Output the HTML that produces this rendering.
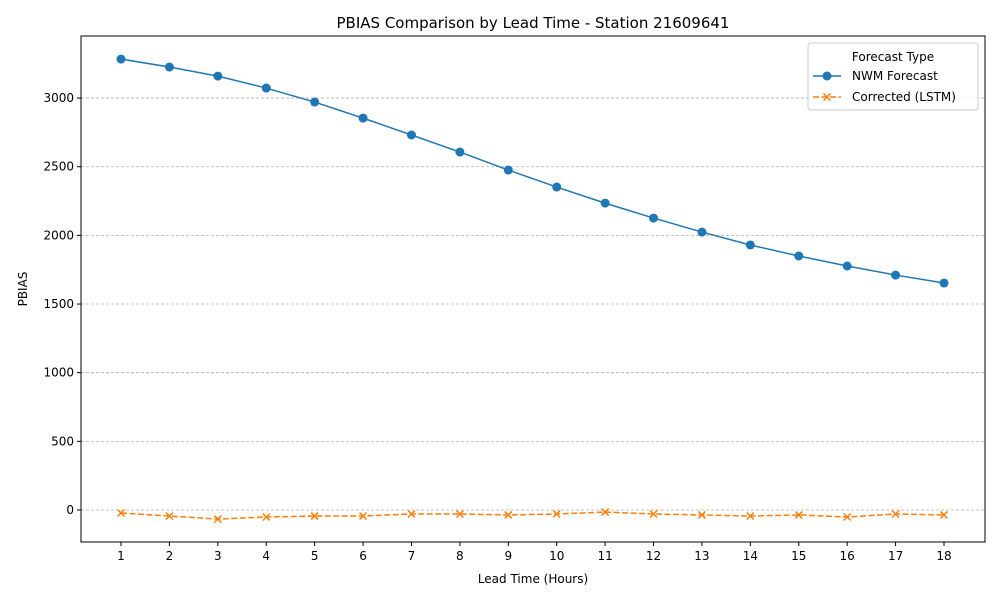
<!DOCTYPE html>
<html><head><meta charset="utf-8"><style>
body{margin:0;background:#fff;font-family:"Liberation Sans","DejaVu Sans",sans-serif}
</style></head><body>
<svg id="chart" width="1000" height="600" xmlns="http://www.w3.org/2000/svg" font-family="DejaVu Sans, Liberation Sans, sans-serif"></svg>
<script>
const leadTimes=[1,2,3,4,5,6,7,8,9,10,11,12,13,14,15,16,17,18];
const nwmValues=[3284,3226,3160,3073,2971,2854,2731,2607,2476,2352,2235,2126,2024,1930,1850,1777,1711,1653];
const lstmValues=[-22,-44,-66,-51,-44,-44,-29,-29,-36,-29,-15,-29,-36,-44,-36,-51,-29,-36];
const yTicks=[0,500,1000,1500,2000,2500,3000];
const L=81,R=985,T=36,B=542,yMin=-233,yMax=3452;
const xs=v=>121+(v-1)*(944-121)/17;
const ys=v=>B-(v-yMin)/(yMax-yMin)*(B-T);
const svg=document.getElementById('chart');
const NS='http://www.w3.org/2000/svg';
function mk(tag,attrs,parent){const e=document.createElementNS(NS,tag);for(const k in attrs)e.setAttribute(k,attrs[k]);(parent||svg).appendChild(e);return e;}
// grid
yTicks.forEach(t=>{
  const g=mk('line',{x1:L,x2:R,y1:ys(t),y2:ys(t),stroke:'#b0b0b0','stroke-width':0.8,'stroke-dasharray':'3,2'});
  
  
  const tk=mk('line',{x1:L-4,x2:L,y1:ys(t),y2:ys(t),stroke:'#000'});
  
  
  const tx=mk('text',{x:L-7,y:ys(t)+4,'text-anchor':'end','font-size':12});
  tx.textContent=t;
  
  
});
leadTimes.forEach(v=>{
  const tk=mk('line',{x1:xs(v),x2:xs(v),y1:B,y2:B+4,stroke:'#000'});
  
  
  const tx=mk('text',{x:xs(v),y:B+18,'text-anchor':'middle','font-size':12});
  tx.textContent=v;
  
  
});
// NWM series
const p1=mk('polyline',{points:leadTimes.map((v,i)=>xs(v)+','+ys(nwmValues[i])).join(' '),fill:'none',stroke:'#1f77b4','stroke-width':1.5});


leadTimes.forEach((v,i)=>{
  const c=mk('circle',{cx:xs(v),cy:ys(nwmValues[i]),r:4.5,fill:'#1f77b4'});
  
  
});
// LSTM series
const p2=mk('polyline',{points:leadTimes.map((v,i)=>xs(v)+','+ys(lstmValues[i])).join(' '),fill:'none',stroke:'#ff7f0e','stroke-width':1.5,'stroke-dasharray':'6,2.5'});


leadTimes.forEach((v,i)=>{
  const x=xs(v),y=ys(lstmValues[i]);
  const m=mk('path',{d:`M${x-3.5},${y-3.5}L${x+3.5},${y+3.5}M${x-3.5},${y+3.5}L${x+3.5},${y-3.5}`,stroke:'#ff7f0e','stroke-width':1.5});
  
  
});
</script>
<svg width="1000" height="600" style="position:absolute;left:0;top:0" font-family="DejaVu Sans, Liberation Sans, sans-serif">
<rect x="81" y="36" width="904" height="506" fill="none" stroke="#000" stroke-width="1"/>
<text x="533" y="28" text-anchor="middle" font-size="15">PBIAS Comparison by Lead Time - Station 21609641</text>
<text x="533" y="583" text-anchor="middle" font-size="12">Lead Time (Hours)</text>
<text x="27" y="289" text-anchor="middle" font-size="12" transform="rotate(-90 27 289)">PBIAS</text>
<g>
<rect x="808" y="43" width="170" height="67" rx="3" fill="#fff" fill-opacity="0.8" stroke="#ccc"/>
<text x="893" y="61" text-anchor="middle" font-size="12">Forecast Type</text>
<g>
<line x1="813" x2="841" y1="76" y2="76" stroke="#1f77b4" stroke-width="1.5"/><circle cx="827" cy="76" r="4.5" fill="#1f77b4"/>
<text x="852" y="80" font-size="12">NWM Forecast</text></g>
<g>
<line x1="813" x2="841" y1="97" y2="97" stroke="#ff7f0e" stroke-width="1.5" stroke-dasharray="6,2.5"/><path d="M823.5,93.5L830.5,100.5M823.5,100.5L830.5,93.5" stroke="#ff7f0e" stroke-width="1.5"/>
<text x="852" y="101" font-size="12">Corrected (LSTM)</text></g>
</g>
</svg>
</body></html>
